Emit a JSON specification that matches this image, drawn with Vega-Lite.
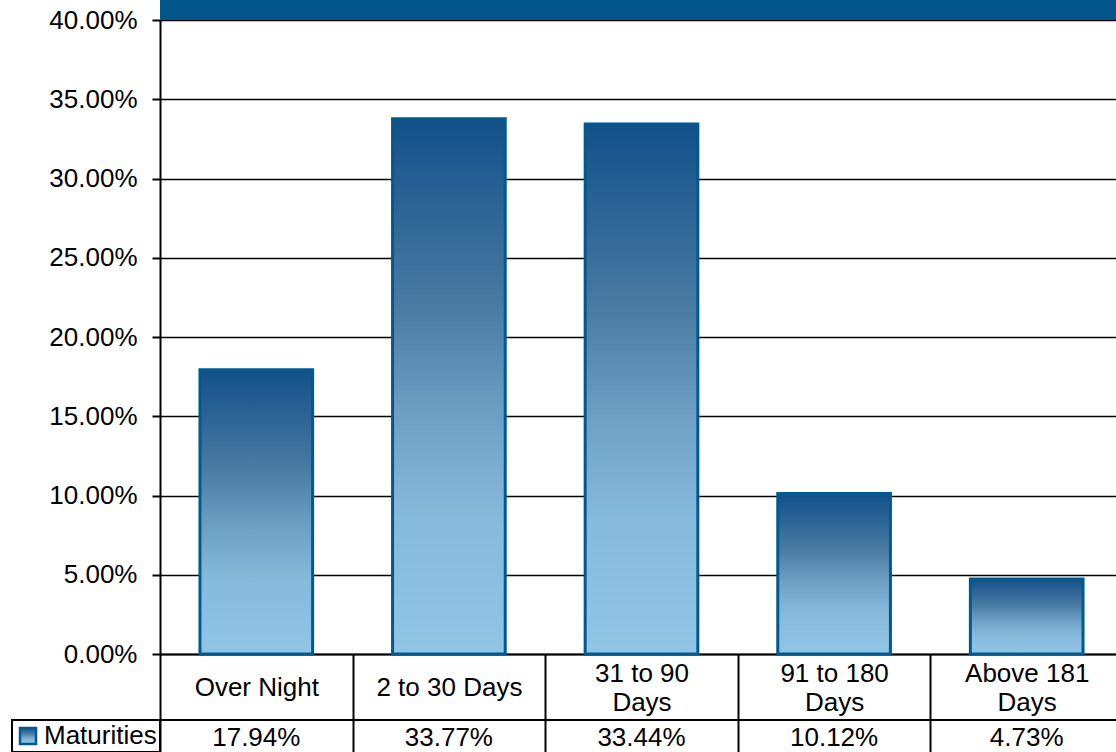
{
  "$schema": "https://vega.github.io/schema/vega-lite/v6.json",
  "autosize": "none",
  "padding": {"left": 160, "top": 20, "right": 0, "bottom": 98},
  "width": 956,
  "height": 634,
  "config": {
    "font": "Liberation Sans",
    "view": {"stroke": null},
    "axis": {"labelFont": "Liberation Sans", "labelColor": "#000000", "labelFontSize": 26},
    "legend": {"strokeWidth": 2}
  },
  "data": {
    "values": [
      {"category": "Over Night", "value": 0.1794, "series": "Maturities"},
      {"category": "2 to 30 Days", "value": 0.3377, "series": "Maturities"},
      {"category": "31 to 90 Days", "value": 0.3344, "series": "Maturities"},
      {"category": "91 to 180 Days", "value": 0.1012, "series": "Maturities"},
      {"category": "Above 181 Days", "value": 0.0473, "series": "Maturities"}
    ]
  },
  "layer": [
    {
      "mark": {
        "type": "bar",
        "width": {"band": 0.585},
        "strokeWidth": 3,
        "fill": {
          "gradient": "linear",
          "x1": 0, "y1": 0, "x2": 0, "y2": 1,
          "stops": [
            {"offset": 0, "color": "#13508a"},
            {"offset": 0.35, "color": "#4a7ba3"},
            {"offset": 0.55, "color": "#6d9fc5"},
            {"offset": 0.75, "color": "#86badd"},
            {"offset": 1, "color": "#90c5e6"}
          ]
        }
      },
      "encoding": {
        "x": {
          "field": "category",
          "type": "nominal",
          "sort": null,
          "scale": {"range": [0, 963], "paddingInner": 0, "paddingOuter": 0},
          "axis": {
            "title": null,
            "orient": "bottom",
            "domain": true,
            "domainColor": "#000000",
            "domainWidth": 2,
            "grid": false,
            "ticks": true,
            "tickBand": "extent",
            "tickSize": 98,
            "tickColor": "#000000",
            "tickWidth": 2,
            "labelAngle": 0,
            "labelPadding": {"condition": {"test": "length(datum.label) > 12", "value": -79}, "value": -65},
            "labelBaseline": "middle",
            "labelLineHeight": 29,
            "labelLimit": 190,
            "labelExpr": "length(datum.label) > 12 ? [slice(datum.label, 0, lastindexof(datum.label, ' ')), 'Days'] : datum.label"
          }
        },
        "y": {
          "field": "value",
          "type": "quantitative",
          "scale": {"domain": [0, 0.4], "nice": false, "zero": true},
          "axis": {
            "title": null,
            "values": [0, 0.05, 0.1, 0.15, 0.2, 0.25, 0.3, 0.35, 0.4],
            "format": ".2%",
            "domain": true,
            "domainColor": "#000000",
            "domainWidth": 2,
            "grid": true,
            "gridColor": "#000000",
            "gridWidth": 1.5,
            "gridOpacity": 1,
            "tickColor": "#000000",
            "tickWidth": 2,
            "tickSize": 8,
            "labelPadding": 15
          }
        },
        "stroke": {
          "field": "series",
          "type": "nominal",
          "scale": {"range": ["#005a8f"]},
          "legend": {
            "title": null,
            "orient": "none",
            "legendX": -148,
            "legendY": 700,
            "padding": 3,
            "strokeColor": "#000000",
            "symbolType": "square",
            "symbolSize": 256,
            "symbolStrokeWidth": 2.5,
            "labelFontSize": 26,
            "labelFont": "Liberation Sans",
            "labelColor": "#000000",
            "labelOffset": 3
          }
        }
      }
    },
    {
      "mark": {"type": "rect", "color": "#02558a"},
      "encoding": {
        "y": {"datum": 0.4, "type": "quantitative", "scale": {"domain": [0, 0.4], "nice": false}},
        "y2": {"datum": 0.413}
      }
    },
    {
      "mark": {"type": "rule", "color": "#000000", "strokeWidth": 2},
      "encoding": {
        "y": {"datum": -0.0416, "type": "quantitative", "scale": {"domain": [0, 0.4], "nice": false}}
      }
    },
    {
      "mark": {"type": "text", "fontSize": 26, "font": "Liberation Sans", "color": "#000000", "baseline": "middle", "align": "center"},
      "encoding": {
        "x": {"field": "category", "type": "nominal", "sort": null},
        "y": {"datum": -0.053, "type": "quantitative", "scale": {"domain": [0, 0.4], "nice": false}},
        "text": {"field": "value", "type": "quantitative", "format": ".2%"}
      }
    }
  ]
}
